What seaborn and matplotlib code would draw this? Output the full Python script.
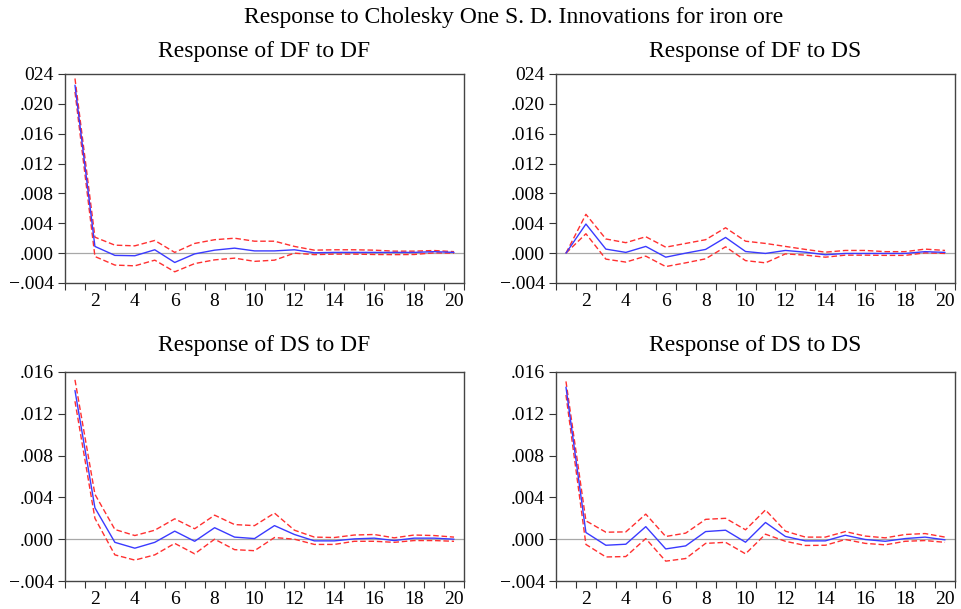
import matplotlib
matplotlib.use("Agg")
import numpy as np
import pandas as pd
import matplotlib.pyplot as plt
import seaborn as sns

# impulse response horizons
periods = list(range(1, 21))

# Response of DF to DF
df_df_resp = [0.0225, 0.0009, -0.0003, -0.00035, 0.00045, -0.00125, -0.0001, 0.0004, 0.00067, 0.0003,
              0.0003, 0.00045, 0.00005, 0.0001, 0.0001, 0.0001, 0.0001, 0.0001, 0.0002, 0.0001]
df_df_upper = [0.0234, 0.00214, 0.00107, 0.00098, 0.0017, 0.0001, 0.0013, 0.0018, 0.002, 0.0016,
               0.0016, 0.0009, 0.0004, 0.00045, 0.00045, 0.0004, 0.00027, 0.00027, 0.00035, 0.0002]
df_df_lower = [0.0216, -0.00045, -0.0016, -0.0017, -0.00094, -0.0025, -0.0014, -0.0009, -0.00067, -0.0011,
               -0.00094, 0.0, -0.0002, -0.00013, -0.00013, -0.00018, -0.0002, -0.00018, 0.00004, 0.0]

# Response of DF to DS
df_ds_resp = [0.0, 0.0039, 0.00054, 0.0001, 0.0009, -0.00054, 0.0, 0.0005, 0.0021, 0.00022,
              -0.00004, 0.00036, 0.00013, -0.00022, -0.00004, -0.00004, -0.00004, -0.00004, 0.0002, 0.0001]
df_ds_upper = [0.0, 0.0052, 0.0019, 0.0014, 0.0022, 0.0008, 0.0013, 0.0018, 0.0034, 0.0016,
               0.0013, 0.0009, 0.0005, 0.00013, 0.00036, 0.00036, 0.0002, 0.0002, 0.00054, 0.00036]
df_ds_lower = [0.0, 0.0026, -0.0008, -0.0012, -0.0004, -0.0018, -0.0013, -0.00076, 0.00085, -0.001,
               -0.0013, -0.0001, -0.00027, -0.00054, -0.00027, -0.00027, -0.0003, -0.0003, 0.00004, -0.00004]

# Response of DS to DF
ds_df_resp = [0.01423, 0.003, -0.0003, -0.00086, -0.0003, 0.00077, -0.0002, 0.0011, 0.0002, 0.00006,
              0.0013, 0.00045, -0.00016, -0.00016, 0.00003, 0.0001, -0.00013, 0.0001, 0.0001, 0.0]
ds_df_upper = [0.01525, 0.0043, 0.00093, 0.00035, 0.00086, 0.00195, 0.001, 0.0023, 0.0014, 0.0013,
               0.0025, 0.00086, 0.0002, 0.00016, 0.0004, 0.00045, 0.00013, 0.0004, 0.00035, 0.0002]
ds_df_lower = [0.0132, 0.002, -0.0015, -0.002, -0.0015, -0.0004, -0.0014, 0.0, -0.001, -0.0011,
               0.00016, 0.0, -0.0005, -0.0005, -0.0002, -0.0002, -0.0003, -0.00013, -0.00013, -0.0002]

# Response of DS to DS
ds_ds_resp = [0.01455, 0.00064, -0.00058, -0.00048, 0.0012, -0.00093, -0.00064, 0.00073, 0.00086, -0.00029,
              0.0016, 0.00026, -0.00016, -0.00016, 0.00038, -0.00003, -0.0002, 0.00006, 0.0002, -0.00006]
ds_ds_upper = [0.0151, 0.00176, 0.00067, 0.0007, 0.0024, 0.00026, 0.00058, 0.0019, 0.002, 0.0009,
               0.0028, 0.00077, 0.0002, 0.0002, 0.00073, 0.0003, 0.00013, 0.00045, 0.00054, 0.0002]
ds_ds_lower = [0.0138, -0.0005, -0.0017, -0.00166, 0.00006, -0.0021, -0.00185, -0.0004, -0.0003, -0.0014,
               0.00048, -0.0002, -0.0006, -0.00058, -0.00003, -0.0004, -0.00054, -0.0002, -0.00013, -0.0003]

titles = ["Response of DF to DF", "Response of DF to DS",
          "Response of DS to DF", "Response of DS to DS"]

top_ticks = [-0.004, 0.0, 0.004, 0.008, 0.012, 0.016, 0.020, 0.024]
top_labels = ["\u2212.004", ".000", ".004", ".008", ".012", ".016", ".020", "024"]
bottom_ticks = [-0.004, 0.0, 0.004, 0.008, 0.012, 0.016]
bottom_labels = ["\u2212.004", ".000", ".004", ".008", ".012", ".016"]

panels = [
    (df_df_resp, df_df_upper, df_df_lower, top_ticks, top_labels),
    (df_ds_resp, df_ds_upper, df_ds_lower, top_ticks, top_labels),
    (ds_df_resp, ds_df_upper, ds_df_lower, bottom_ticks, bottom_labels),
    (ds_ds_resp, ds_ds_upper, ds_ds_lower, bottom_ticks, bottom_labels),
]

sns.set_style('white')
plt.rcParams['font.family'] = ['Liberation Serif', 'DejaVu Serif']
plt.rcParams['text.color'] = 'black'
plt.rcParams['xtick.color'] = 'black'
plt.rcParams['ytick.color'] = 'black'

W, H = 962, 609
fig = plt.figure(figsize=(W / 100, H / 100), dpi=100)

# axes boxes in pixels: left, top, right, bottom
boxes = [(65, 74, 464, 283), (556, 74, 955, 283),
         (65, 372, 464, 581), (556, 372, 955, 581)]
pads = [12, 12, 15, 15]

for (resp, upper, lower, yt, yl), box, title, pad in zip(panels, boxes, titles, pads):
    l, t, r, b = box
    ax = fig.add_axes([l / W, 1 - b / H, (r - l) / W, (b - t) / H])
    ax.axhline(0, color='#a8a8a8', lw=0.9, zorder=1)
    sns.lineplot(x=periods, y=resp, ax=ax, color='#3a3aff', lw=1.0, zorder=3)
    for band in (upper, lower):
        sns.lineplot(x=periods, y=band, ax=ax, color='#ff3030', lw=1.0, zorder=2)
        ax.lines[-1].set_dashes([4, 2])
    ax.set_xlim(0.5, 20.5)
    ax.set_ylim(yt[0], yt[-1])
    ax.set_yticks(yt)
    ax.set_yticklabels(yl)
    # tick marks between periods, labels on even periods
    ax.set_xticks(np.arange(0.5, 21, 1.0))
    ax.set_xticklabels([])
    ax.set_xticks(np.arange(2, 21, 2), minor=True)
    ax.set_xticklabels([str(i) for i in range(2, 21, 2)], minor=True)
    ax.tick_params(axis='x', which='major', bottom=True, length=5, width=0.8, color='#333333')
    ax.tick_params(axis='x', which='minor', bottom=True, length=0, pad=7, labelsize=14)
    ax.tick_params(axis='y', left=True, length=5, width=0.8, color='#333333', labelsize=14, pad=3)
    for s in ax.spines.values():
        s.set_color('#444444')
        s.set_linewidth(1.0)
    ax.set_title(title, fontsize=17, pad=pad)
    ax.set_xlabel('')
    ax.set_ylabel('')

fig.text(514 / W, 1 - 23 / H, "Response to Cholesky One S. D. Innovations for iron ore",
         ha='center', va='baseline', fontsize=17)

plt.savefig('out.png', dpi=100)
